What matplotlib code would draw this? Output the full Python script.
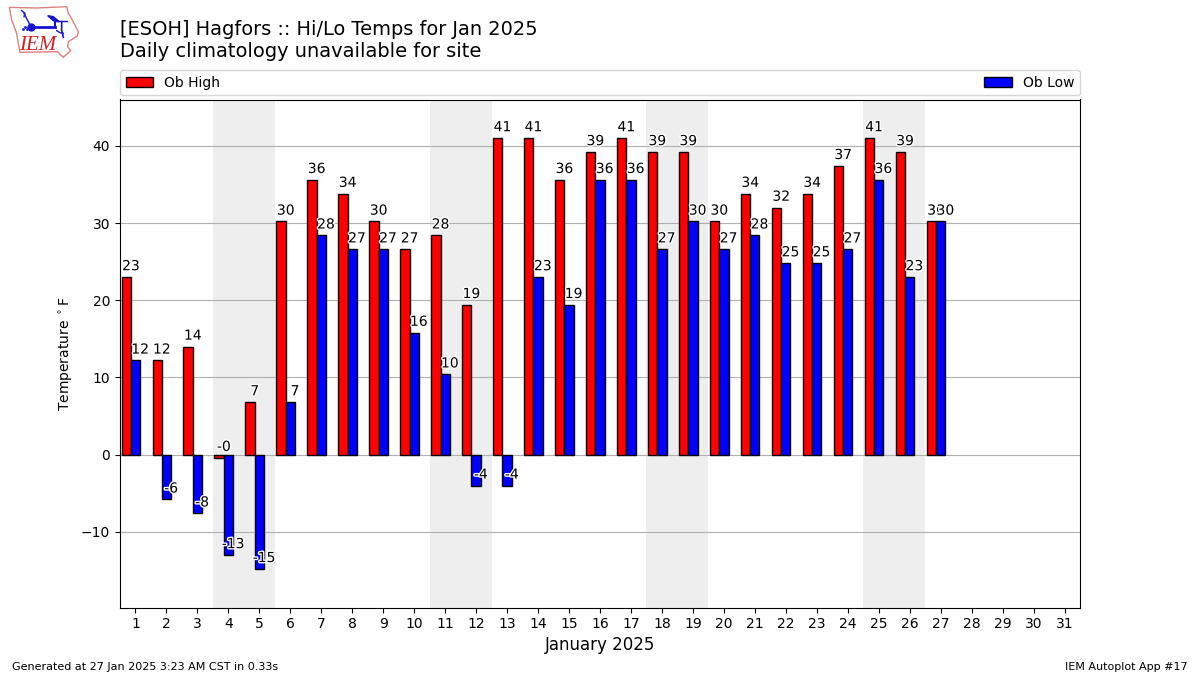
import matplotlib
matplotlib.use("Agg")
import matplotlib.pyplot as plt
import matplotlib.patheffects as PathEffects
import numpy as np

days = list(range(1, 28))
highs = [23, 12.2, 14, -0.4, 6.8, 30.2, 35.6, 33.8, 30.2, 26.6, 28.4, 19.4, 41, 41,
         35.6, 39.2, 41, 39.2, 39.2, 30.2, 33.8, 32, 33.8, 37.4, 41, 39.2, 30.2]
lows = [12.2, -5.8, -7.6, -13, -14.8, 6.8, 28.4, 26.6, 26.6, 15.8, 10.4, -4, -4, 23,
        19.4, 35.6, 35.6, 26.6, 30.2, 26.6, 28.4, 24.8, 24.8, 26.6, 35.6, 23, 30.2]
weekend_starts = [4, 11, 18, 25]
xticks = list(range(1, 32))

iowa_x = [28, 110, 200, 205, 218, 235, 232, 205, 203, 212, 190, 172, 60, 55, 50, 35]
iowa_y = [22, 24, 20, 40, 62, 95, 108, 125, 140, 152, 172, 155, 157, 130, 100, 60]

fig = plt.figure(figsize=(12, 6.75), dpi=100)
ax = fig.add_axes([120 / 1200, 1 - 607.5 / 675, 960 / 1200, 508 / 675])

for d in weekend_starts:
    ax.axvspan(d - 0.5, d + 1.5, color="#EEEEEE", zorder=0, lw=0)

x = np.array(days)
width = 0.3
ax.bar(x - width, highs, width, color="r", edgecolor="k", label="Ob High", zorder=2)
ax.bar(x, lows, width, color="b", edgecolor="k", label="Ob Low", zorder=2)

for xp, val in zip(x - width, highs):
    t = ax.text(xp + width / 2, val + 0.5, f"{val:.0f}", ha="center", va="bottom", fontsize=10, zorder=5)
    t.set_path_effects([PathEffects.withStroke(linewidth=2, foreground="white")])
for xp, val in zip(x, lows):
    t = ax.text(xp + width / 2, val + 0.5, f"{val:.0f}", ha="center", va="bottom", fontsize=10, zorder=5)
    t.set_path_effects([PathEffects.withStroke(linewidth=2, foreground="white")])

ax.set_xlim(0.5, 31.5)
ax.set_ylim(-19.8, 46)
ax.set_xticks(xticks)
ax.set_yticks([-10, 0, 10, 20, 30, 40])
ax.set_yticklabels(["\u221210", "0", "10", "20", "30", "40"])
ax.set_axisbelow(True)
ax.grid(True, axis="y", color="#b0b0b0")
ax.set_ylabel("Temperature $^\\circ$F", fontsize=10)
ax.set_xlabel("January 2025", fontsize=12, labelpad=3.5)
ax.legend(loc="lower left", bbox_to_anchor=(0, 1.008, 1, 0.05), mode="expand", ncol=2,
          borderaxespad=0, fontsize=10)

fig.text(120 / 1200, 1 - 35 / 675, "[ESOH] Hagfors :: Hi/Lo Temps for Jan 2025", fontsize=13.95)
fig.text(120 / 1200, 1 - 57 / 675, "Daily climatology unavailable for site", fontsize=13.95)
fig.text(12 / 1200, 1 - 670 / 675, "Generated at 27 Jan 2025 3:23 AM CST in 0.33s", fontsize=8)
fig.text(1188 / 1200, 1 - 670 / 675, "IEM Autoplot App #17", fontsize=8, ha="right")

# logo, coords are from the 3x zoom of the top left corner
logo = fig.add_axes([0, 1 - 60 / 675, 100 / 1200, 60 / 675])
logo.set_xlim(0, 300)
logo.set_ylim(180, 0)
logo.axis("off")
logo.fill(iowa_x, iowa_y, facecolor="white", edgecolor="#e08080", lw=1)
logo.plot([93, 165], [80, 80], color="#1515d0", lw=2)
logo.plot([165, 200], [63, 63], color="#1515d0", lw=1)
logo.plot([165, 165], [63, 80], color="#1515d0", lw=1.5)
logo.plot([72, 90], [40, 75], color="#1515d0", lw=1)
logo.plot([65, 75, 72], [32, 40, 50], color="#1515d0", lw=1)
logo.plot([93], [80], "o", color="#1515d0", ms=5)
logo.fill([143, 160, 178, 160], [47, 50, 65, 62], color="#1515d0")
logo.plot([185, 185, 190], [65, 90, 112], color="#1515d0", lw=1.2)
logo.plot([170, 180, 190], [92, 98, 100], color="#1515d0", lw=1)
logo.plot([70, 75, 80], [87, 80, 87], ".", color="#1515d0", ms=2)
logo.text(112, 136, "IEM", color="#d02020", fontsize=15, family="Liberation Serif",
          style="italic", ha="center", va="center")

fig.savefig("out.png", dpi=100)
